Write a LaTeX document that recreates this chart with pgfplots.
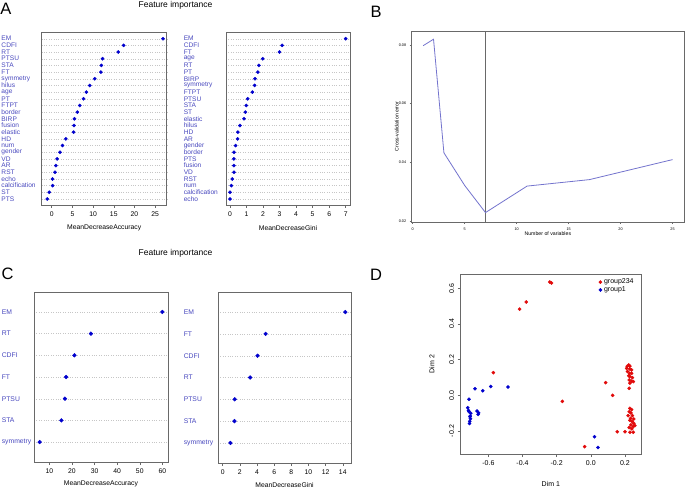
\documentclass[border=0pt]{standalone}
\usepackage{fontspec}
\setmainfont{Liberation Sans}
\usepackage{pgfplots}
\pgfplotsset{compat=1.18}

\definecolor{labblue}{RGB}{72,72,190}
\definecolor{dotblue}{RGB}{0,0,205}
\definecolor{dotred}{RGB}{225,10,10}
\definecolor{boxgray}{RGB}{105,105,105}
\definecolor{cvline}{RGB}{115,115,205}
\newcommand{\fs}[1]{\fontsize{#1}{#1}\selectfont}

\pgfplotsset{
  rbase/.style={scale only axis, anchor=south west,
    axis line style={boxgray, line width=0.6pt},
    tick align=outside, major tick length=3pt,
    tick style={boxgray, line width=0.5pt},
    xtick pos=left, ytick pos=left,
    scaled ticks=false,
    /pgf/number format/assume math mode=true,
    ticklabel style={font=\fs{6.8}}},
  dotc/.style={rbase, ymajorgrids,
    major grid style={dotted, gray!45, line width=0.35pt},
    ytick style={draw=none},
    yticklabel style={labblue, inner sep=0pt, align=left, font=\fs{6.6}},
    xlabel style={font=\fs{6.8}, anchor=center}},
  dotA/.style={dotc, width=125pt, height=173pt, ymin=0.1, ymax=26,
    ytick={1,...,25}, xlabel style={at={(axis description cs:0.5,-0.133)}}},
  dotC/.style={dotc, width=134pt, height=170pt, ymin=0.08, ymax=7.92,
    ytick={1,...,7}, yticklabel style={font=\fs{6.8}},
    xlabel style={at={(axis description cs:0.5,-0.13)}}},
}

\begin{document}
\begin{tikzpicture}
\path[use as bounding box] (0,0) rectangle (685pt,490pt);

% titles and panel letters
\node[font=\fs{8.5}] at (175.5pt,485pt) {Feature importance};
\node[font=\fs{8.5}] at (175.5pt,237pt) {Feature importance};
\node[font=\fs{16.5}] at (6pt,481pt) {A};
\node[font=\fs{16.5}] at (376pt,478pt) {B};
\node[font=\fs{16.5}] at (7.5pt,216.5pt) {C};
\node[font=\fs{16.5}] at (376pt,215pt) {D};

% ---- A left: MeanDecreaseAccuracy
\begin{axis}[dotA, at={(41.7pt,285pt)}, xmin=-2.42, xmax=27.8,
  xtick={0,5,...,25}, xlabel={MeanDecreaseAccuracy},
  yticklabel style={text width=37pt},
  yticklabels={PTS,ST,calcification,echo,RST,AR,VD,gender,num,HD,elastic,fusion,BIRP,border,FTPT,PT,age,hilus,symmetry,FT,STA,PTSU,RT,CDFI,EM}]
\addplot[only marks, mark=*, mark size=1.6pt, dotblue] coordinates {
  (-1.1,1) (-0.6,2) (0.2,3) (0.2,4) (0.8,5) (1.0,6) (1.3,7) (2.0,8) (2.6,9)
  (3.4,10) (5.3,11) (5.4,12) (5.5,13) (6.2,14) (6.8,15) (7.7,16) (8.4,17)
  (9.2,18) (10.4,19) (11.9,20) (12.0,21) (12.3,22) (16.1,23) (17.4,24) (26.9,25)};
\end{axis}

% ---- A right: MeanDecreaseGini
\begin{axis}[dotA, at={(226pt,285pt)}, width=124pt, xmin=-0.24, xmax=7.26,
  xtick={0,...,7}, xlabel={MeanDecreaseGini},
  yticklabel style={text width=39pt},
  yticklabels={echo,calcification,num,RST,VD,fusion,PTS,border,gender,AR,HD,hilus,elastic,ST,STA,PTSU,FTPT,symmetry,BIRP,PT,RT,age,FT,CDFI,EM}]
\addplot[only marks, mark=*, mark size=1.6pt, dotblue] coordinates {
  (0,1) (0,2) (0.08,3) (0.14,4) (0.24,5) (0.24,6) (0.24,7) (0.24,8) (0.34,9)
  (0.46,10) (0.48,11) (0.60,12) (0.85,13) (0.93,14) (0.99,15) (1.07,16)
  (1.35,17) (1.49,18) (1.51,19) (1.69,20) (1.75,21) (1.98,22) (3.0,23)
  (3.15,24) (7.0,25)};
\end{axis}

% ---- B: cross-validation error
\begin{axis}[rbase, at={(411.7pt,268pt)}, width=272.3pt, height=191pt,
  xmin=-0.1, xmax=26.1, ymin=0.0198, ymax=0.0847,
  major tick length=2pt,
  xtick={0,5,...,25}, ytick={0.02,0.04,0.06,0.08},
  yticklabels={0.02,0.04,0.06,0.08},
  ticklabel style={font=\fs{3.8}},
  xlabel={Number of variables}, ylabel={Cross-validation error},
  xlabel style={font=\fs{5.2}, at={(axis description cs:0.5,-0.063)}, anchor=center},
  ylabel style={font=\fs{5.2}, at={(axis description cs:-0.055,0.5)}, anchor=center}]
\addplot[boxgray, line width=0.9pt] coordinates {(7,0.0198) (7,0.0847)};
\addplot[cvline, line width=0.8pt] coordinates {
  (1,0.0797) (2,0.0819) (3,0.0433) (5,0.0322) (7,0.0230) (11,0.0320)
  (17,0.0342) (25,0.0410)};
\end{axis}

% ---- C left
\begin{axis}[dotC, at={(34pt,28pt)}, xmin=3.2, xmax=62.5,
  xtick={10,20,...,60}, xlabel={MeanDecreaseAccuracy},
  yticklabel style={text width=29pt},
  yticklabels={symmetry,STA,PTSU,FT,CDFI,RT,EM}]
\addplot[only marks, mark=*, mark size=1.9pt, dotblue] coordinates {
  (5.7,1) (15.3,2) (16.9,3) (17.4,4) (21.1,5) (28.4,6) (60.0,7)};
\end{axis}

% ---- C right
\begin{axis}[dotC, at={(218pt,27pt)}, width=133pt, height=171pt,
  xmin=-0.55, xmax=14.96,
  xtick={0,2,...,14}, xlabel={MeanDecreaseGini},
  yticklabel style={text width=31pt},
  yticklabels={symmetry,STA,PTSU,RT,CDFI,FT,EM}]
\addplot[only marks, mark=*, mark size=1.9pt, dotblue] coordinates {
  (0.9,1) (1.37,2) (1.4,3) (3.2,4) (4.06,5) (5.0,6) (14.3,7)};
\end{axis}

% ---- D: MDS plot
\begin{axis}[rbase, at={(460.7pt,36pt)}, width=180.3pt, height=180pt,
  xmin=-0.762, xmax=0.294, ymin=-0.329, ymax=0.680,
  xtick={-0.6,-0.4,-0.2,0,0.2}, xticklabels={-0.6,-0.4,-0.2,0.0,0.2},
  ytick={-0.2,0,0.2,0.4,0.6}, yticklabels={-0.2,0.0,0.2,0.4,0.6},
  ticklabel style={font=\fs{7}},
  yticklabel style={rotate=90, anchor=south},
  xlabel={Dim 1}, ylabel={Dim 2},
  xlabel style={font=\fs{7}, at={(axis description cs:0.5,-0.167)}, anchor=center},
  ylabel style={font=\fs{7}, at={(axis description cs:-0.16,0.5)}, anchor=center},
  legend style={at={(0.765,0.985)}, anchor=north west, draw=none, fill=none,
    font=\fs{7}, inner sep=0pt, row sep=-2.5pt},
  legend image code/.code={\draw[#1] plot coordinates {(0pt,0pt)};},
  legend cell align=left]
\addplot[only marks, mark=*, mark size=1.6pt, dotred] coordinates {
  (-0.24,0.635) (-0.23,0.63) (-0.378,0.523) (-0.417,0.483) (-0.571,0.127)
  (-0.167,-0.034) (0.087,0.071) (0.128,0.0) (-0.036,-0.288)
  (0.155,-0.204) (0.200,-0.204)
  (0.213,0.163) (0.222,0.170) (0.229,0.164) (0.210,0.151) (0.227,0.148)
  (0.239,0.142) (0.215,0.133) (0.227,0.123) (0.239,0.123) (0.222,0.110)
  (0.229,0.105) (0.244,0.099) (0.225,0.086) (0.239,0.080) (0.249,0.077)
  (0.229,0.068) (0.225,0.039)
  (0.229,-0.073) (0.239,-0.080) (0.225,-0.092) (0.235,-0.099) (0.219,-0.114)
  (0.244,-0.114) (0.233,-0.129) (0.252,-0.133) (0.229,-0.140) (0.242,-0.148)
  (0.252,-0.157) (0.235,-0.166) (0.249,-0.175) (0.225,-0.181) (0.240,-0.188)
  (0.258,-0.170) (0.229,-0.207) (0.249,-0.207)};
\addlegendentry{group234}
\addplot[only marks, mark=*, mark size=1.6pt, dotblue] coordinates {
  (-0.485,0.047) (-0.586,0.049) (-0.633,0.026) (-0.678,0.037) (-0.713,-0.022)
  (-0.721,-0.070) (-0.716,-0.085) (-0.713,-0.092) (-0.703,-0.101)
  (-0.706,-0.116) (-0.705,-0.131) (-0.709,-0.146) (-0.711,-0.158)
  (-0.666,-0.088) (-0.657,-0.099) (-0.660,-0.107) (-0.708,-0.120)
  (0.022,-0.232) (0.042,-0.293)};
\addlegendentry{group1}
\end{axis}
\end{tikzpicture}
\end{document}
